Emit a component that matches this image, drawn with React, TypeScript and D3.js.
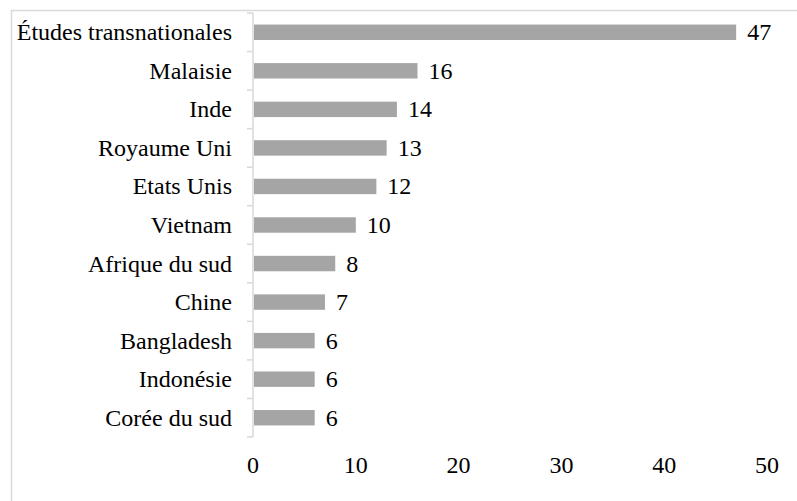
import React from 'react'
import * as d3 from 'd3'

const categories = ['Études transnationales', 'Malaisie', 'Inde', 'Royaume Uni', 'Etats Unis', 'Vietnam', 'Afrique du sud', 'Chine', 'Bangladesh', 'Indonésie', 'Corée du sud']
const values = [47, 16, 14, 13, 12, 10, 8, 7, 6, 6, 6]
const xTicks = [0, 10, 20, 30, 40, 50]

const width = 797
const height = 501
const txt = { fontFamily: '"Liberation Serif"' }

export default function App() {
  const x = d3.scaleLinear().domain([0, 50]).range([253, 767])
  const y = d3.scaleBand().domain(categories).range([13, 437]).paddingInner(0.6).paddingOuter(0.3)
  const band = d3.scaleBand().domain(categories).range([13, 437])

  return (
    <svg width={width} height={height} style={{ position: 'absolute', left: 0, top: 0 }}>
      <rect x={11.5} y={10.5} width={900} height={600} fill="#fff" stroke="#d9d9d9" strokeWidth={1.5} />
      {/* axis line + ticks */}
      <line x1={x(0)} x2={x(0)} y1={13} y2={437} stroke="#d9d9d9" strokeWidth={1.5} />
      {categories.map((c, i) => (
        <line key={'t' + i} x1={x(0) - 6} x2={x(0)} y1={band(c)!} y2={band(c)!} stroke="#d9d9d9" strokeWidth={1.5} />
      ))}
      <line x1={x(0) - 6} x2={x(0)} y1={437} y2={437} stroke="#d9d9d9" strokeWidth={1.5} />
      {categories.map((c, i) => (
        <g key={c}>
          <rect x={x(0) + 1} y={y(c)!} width={x(values[i]) - x(0) - 1} height={y.bandwidth()} fill="#a5a5a5" />
          <text x={232} y={y(c)! + y.bandwidth() / 2 + 8} textAnchor="end" fontSize={24} style={txt}>{c}</text>
          <text x={x(values[i]) + 11} y={y(c)! + y.bandwidth() / 2 + 8} fontSize={24} style={txt}>{values[i]}</text>
        </g>
      ))}
      {xTicks.map(t => (
        <text key={t} x={x(t)} y={473} textAnchor="middle" fontSize={24} style={txt}>{t}</text>
      ))}
    </svg>
  )
}
